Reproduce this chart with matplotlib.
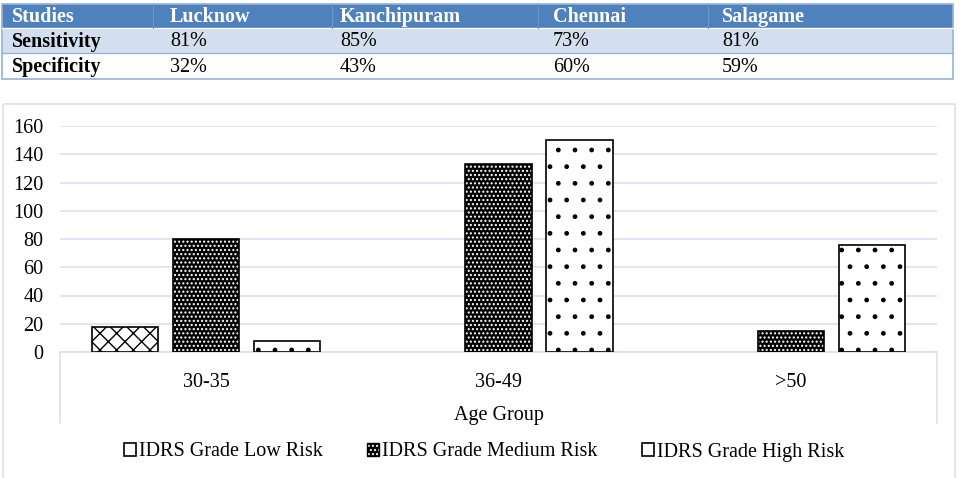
import numpy as np
import matplotlib
matplotlib.use("Agg")
from matplotlib import pyplot as plt
from matplotlib.patches import Rectangle, Patch
from matplotlib.legend_handler import HandlerTuple

# table data
studies = ["Lucknow", "Kanchipuram", "Chennai", "Salagame"]
sensitivity = ["81%", "85%", "73%", "81%"]
specificity = ["32%", "43%", "60%", "59%"]

# chart data
age_groups = ["30-35", "36-49", ">50"]
low_risk = [18, 0, 0]
medium_risk = [80, 133, 15]
high_risk = [8, 150, 76]
series_names = ["IDRS Grade Low Risk", "IDRS Grade Medium Risk", "IDRS Grade High Risk"]
yticks = [0, 20, 40, 60, 80, 100, 120, 140, 160]

W, H = 965, 478
FONT = "Liberation Serif"
GRID = "#D9E2F0"
FS = 14.5

plt.rcParams["font.family"] = FONT
plt.rcParams["hatch.linewidth"] = 1.0

fig = plt.figure(figsize=(W / 100, H / 100), dpi=100)

# background axes in pixel coords for the table and chart frame
bg = fig.add_axes([0, 0, 1, 1])
bg.set_xlim(0, W)
bg.set_ylim(H, 0)
bg.axis("off")

# --- table ---
tx0, tx1 = 2, 953
rows_y = [4, 28, 53, 79]
col_x = [12, 170, 340, 553, 722]
col_sep = [153, 332, 538, 708]
bg.add_patch(Rectangle((tx0, rows_y[0]), tx1 - tx0, rows_y[1] - rows_y[0],
                       facecolor="#4F81BD", edgecolor="none"))
bg.add_patch(Rectangle((tx0, rows_y[1]), tx1 - tx0, rows_y[2] - rows_y[1],
                       facecolor="#D3DFEE", edgecolor="none"))
bg.add_patch(Rectangle((tx0, rows_y[0]), tx1 - tx0, rows_y[3] - rows_y[0],
                       facecolor="none", edgecolor="#95B3D7", lw=1.2))
bg.plot([tx0, tx1], [rows_y[1], rows_y[1]], color="white", lw=1)
bg.plot([tx0, tx1], [rows_y[2], rows_y[2]], color="#95B3D7", lw=1)
for sx in col_sep:
    bg.plot([sx, sx], [rows_y[0], rows_y[1]], color="#6C95C9", lw=0.8)

header = ["Studies"] + studies
row1 = ["Sensitivity"] + sensitivity
row2 = ["Specificity"] + specificity
for i, txt in enumerate(header):
    bg.text(col_x[i], (rows_y[0] + rows_y[1]) / 2 + 1, txt, color="white",
            fontweight="bold", fontsize=FS, va="center", ha="left")
for r, row in enumerate([row1, row2]):
    yc = (rows_y[r + 1] + rows_y[r + 2]) / 2 + 1
    for i, txt in enumerate(row):
        bg.text(col_x[i], yc, txt, color="black", fontsize=FS, va="center", ha="left",
                fontweight="bold" if i == 0 else "normal")

# --- chart frame ---
bg.add_patch(Rectangle((3, 104), 952, 380, facecolor="none", edgecolor=GRID, lw=1.2))

# plot area pixel box
px0, px1 = 60, 937
py0, py1 = 352, 126  # value 0 and value 160
ax = fig.add_axes([px0 / W, (H - py0) / H, (px1 - px0) / W, (py0 - py1) / H])

# category box lines below axis
bg.plot([px0, px0], [py0, 423], color=GRID, lw=1.2)
bg.plot([px1, px1], [py0, 423], color=GRID, lw=1.2)

x = np.arange(len(age_groups))
bw = 0.226
off = 0.277

b_low = ax.bar(x - off, low_risk, bw, facecolor="white", edgecolor="black",
               hatch="xx", lw=1.2, zorder=3)
b_med = ax.bar(x, medium_risk, bw, facecolor="black", edgecolor="white",
               hatch="....", lw=0, zorder=3)
b_med_o = ax.bar(x, medium_risk, bw, fill=False, edgecolor="black", lw=1.2, zorder=4)
b_high = ax.bar(x + off, high_risk, bw, facecolor="white", edgecolor="black",
                hatch=".", lw=1.2, zorder=3)
for cont in [b_low, b_med, b_med_o, b_high]:
    for p in cont.patches:
        if p.get_height() == 0:
            p.set_visible(False)

ax.set_xlim(-0.5, len(age_groups) - 0.5)
ax.set_ylim(0, 160)
ax.set_yticks(yticks)
ax.set_yticklabels([str(v) for v in yticks], fontsize=FS)
ax.set_xticks(x)
ax.set_xticklabels(age_groups, fontsize=FS)
ax.tick_params(axis="y", length=0, pad=12)
ax.tick_params(axis="x", length=0, pad=15)
ax.grid(axis="y", color=GRID, lw=1.2, zorder=0)
for s in ["top", "right", "left"]:
    ax.spines[s].set_visible(False)
ax.spines["bottom"].set_color(GRID)
ax.spines["bottom"].set_linewidth(1.2)
ax.set_xlabel("Age Group", fontsize=FS, labelpad=10)

# legend
h_low = Patch(facecolor="white", edgecolor="black", lw=1.2)
h_med = (Patch(facecolor="black", edgecolor="white", hatch="....", lw=0),
         Patch(fill=False, edgecolor="black", lw=1))
h_high = Patch(facecolor="white", edgecolor="black", lw=1.2)
fig.legend([h_low, h_med, h_high], series_names, loc="center",
           bbox_to_anchor=(484 / W, (H - 452) / H), ncol=3, frameon=False,
           fontsize=FS, handlelength=0.6, handleheight=0.6, handletextpad=0.15,
           columnspacing=2.2, handler_map={tuple: HandlerTuple(ndivide=1)})

fig.savefig("out.png", dpi=100)
